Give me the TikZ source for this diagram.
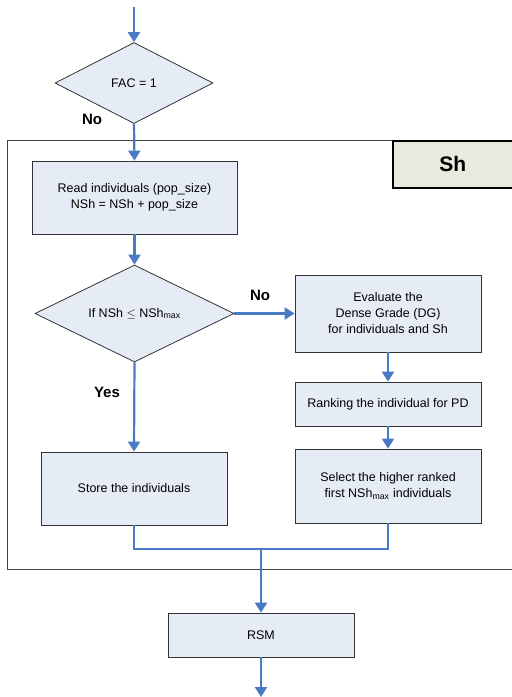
\documentclass[tikz,border=0pt]{standalone}
\usepackage{fontspec}
\setmainfont{Liberation Sans}
\usepackage{tikz}
\usetikzlibrary{arrows.meta,shapes.geometric}
\definecolor{flowBlue}{HTML}{4A7AC4}
\definecolor{boxFill}{HTML}{E6ECF6}
\definecolor{tagFill}{HTML}{E9EADE}
\tikzset{
  step box/.style = {rectangle, draw=black!80, fill=boxFill, line width=0.8pt, inner sep=2pt, align=center, font=\fontsize{12.5}{16}\selectfont},
  test/.style = {diamond, aspect=2, draw=black!80, fill=boxFill, line width=0.8pt, inner sep=0pt, align=center, font=\fontsize{12.5}{15}\selectfont},
  flow/.style = {draw=flowBlue, line width=2.2pt, -{Triangle[length=10pt, width=12pt]}},
  join line/.style = {draw=flowBlue, line width=2.2pt},
  answer/.style = {font=\bfseries\fontsize{15}{17}\selectfont},
}

\begin{document}
\begin{tikzpicture}[x=1pt,y=-1pt]
  \useasboundingbox (0,0) rectangle (512,697);

  % outer frame of the Sh block
  \draw[black!75, line width=1pt] (7,140) rectangle (520,569);
  \node[draw=black, fill=tagFill, line width=1.6pt, minimum width=128pt, minimum height=47pt, anchor=north west, font=\bfseries\fontsize{21}{23}\selectfont] (tag) at (392,140) {\hspace*{-8pt}Sh};

  \coordinate (start) at (134,7);
  \node[test, minimum width=158pt, minimum height=81pt] (fac) at (134,83) {FAC = 1};
  \node[step box, minimum width=205pt, minimum height=73pt] (read) at (134.5,197.5) {Read individuals (pop\_size)\\NSh = NSh + pop\_size};
  \node[test, minimum width=199pt, minimum height=97pt] (size) at (134.5,313.5) {If NSh $\le$ NSh\textsubscript{max}};
  \node[step box, minimum width=186pt, minimum height=77pt] (eval) at (388,313.5) {Evaluate the\\Dense Grade (DG)\\for individuals and Sh};
  \node[step box, minimum width=186pt, minimum height=44pt] (rank) at (388,404) {Ranking the individual for PD};
  \node[step box, minimum width=186pt, minimum height=74pt] (select) at (388,486) {Select the higher ranked\\first NSh\textsubscript{max} individuals};
  \node[step box, minimum width=186pt, minimum height=73pt] (store) at (134,488.5) {Store the individuals};
  \coordinate (join) at (261,549);
  \node[step box, minimum width=186pt, minimum height=44pt] (rsm) at (261,635) {RSM};
  \coordinate (finish) at (261,697);

  \node[answer] (no1) at (92,119) {No};
  \node[answer] (no2) at (260,295) {No};
  \node[answer] (yes) at (107,392) {Yes};

  \draw[flow] (start) -- (fac.north);
  \draw[flow] (fac.south) -- (read.north);
  \draw[flow] (read.south) -- (size.north);
  \draw[flow] (size.east) -- (eval.west);
  \draw[flow] (size.south) -- (store.north);
  \draw[flow] (eval.south) -- (rank.north);
  \draw[flow] (rank.south) -- (select.north);
  \draw[join line] (store.south) |- (join) -| (select.south);
  \draw[flow] (join) -- (rsm.north);
  \draw[flow] (rsm.south) -- (finish);
\end{tikzpicture}
\end{document}
